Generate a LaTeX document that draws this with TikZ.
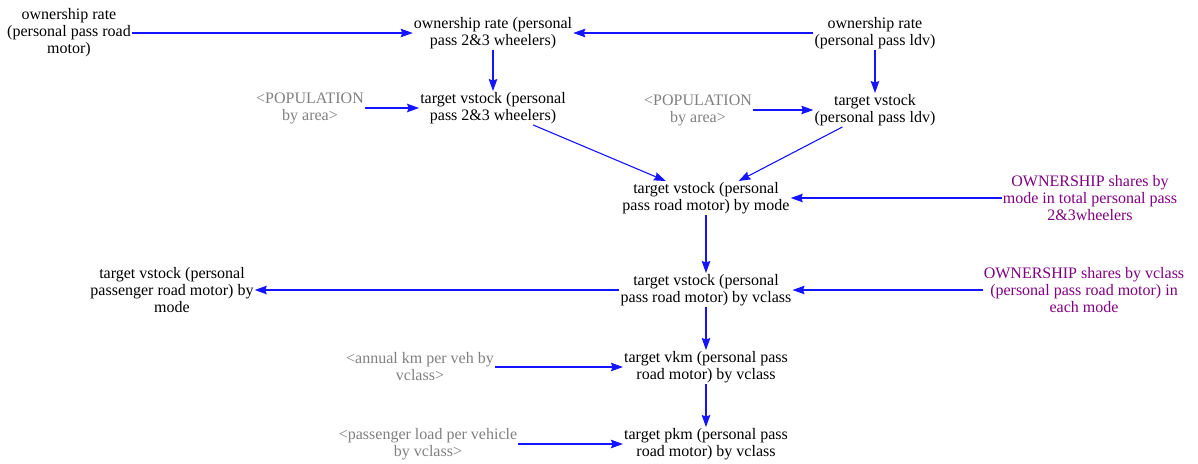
\documentclass[tikz,border=0pt]{standalone}
\usepackage{fontspec}
\setmainfont{Liberation Serif}
\usetikzlibrary{arrows.meta}
\definecolor{linkblue}{RGB}{20,20,255}
\definecolor{shadowgray}{RGB}{128,128,128}
\definecolor{paramplum}{RGB}{128,0,128}
\begin{document}
\begin{tikzpicture}[x=1pt,y=-1pt,
  var/.style={align=center, inner sep=1pt, font=\fontsize{16}{17}\selectfont},
  shadowvar/.style={var, text=shadowgray},
  param/.style={var, text=paramplum},
  link/.style={draw=linkblue, line width=1.1pt, -{Stealth[length=12pt,width=8.5pt,inset=1.5pt]}},
]
\useasboundingbox (0,0) rectangle (1198,463);

% variables
\node[var] (A) at (69,33) {ownership rate\\(personal pass road\\motor)};
\node[var] (B) at (493,33) {ownership rate (personal\\pass 2\&3 wheelers)};
\node[var] (C) at (875,33) {ownership rate\\(personal pass ldv)};
\node[shadowvar] (P1) at (310,108) {<POPULATION\\by area>};
\node[var] (D) at (493,108) {target vstock (personal\\pass 2\&3 wheelers)};
\node[shadowvar] (P2) at (698,110) {<POPULATION\\by area>};
\node[var] (E) at (875,110) {target vstock\\(personal pass ldv)};
\node[var] (F) at (706,198) {target vstock (personal\\pass road motor) by mode};
\node[param] (O1) at (1090,198) {OWNERSHIP shares by\\mode in total personal pass\\2\&3wheelers};
\node[var] (G) at (706,290) {target vstock (personal\\pass road motor) by vclass};
\node[var] (H) at (172,290) {target vstock (personal\\passenger road motor) by\\mode};
\node[param] (O2) at (1084,290) {OWNERSHIP shares by vclass\\(personal pass road motor) in\\each mode};
\node[shadowvar] (K1) at (420,367) {<annual km per veh by\\vclass>};
\node[var] (I) at (706,367) {target vkm (personal pass\\road motor) by vclass};
\node[shadowvar] (K2) at (428,444) {<passenger load per vehicle\\by vclass>};
\node[var] (J) at (706,444) {target pkm (personal pass\\road motor) by vclass};

% causal links
\draw[link] (A) -- (B);
\draw[link] (C) -- (B);
\draw[link] (B) -- (D);
\draw[link] (P1) -- (D);
\draw[link] (C) -- (E);
\draw[link] (P2) -- (E);
\draw[link] (D) -- (F);
\draw[link] (E) -- (F);
\draw[link] (O1) -- (F);
\draw[link] (F) -- (G);
\draw[link] (G) -- (H);
\draw[link] (O2) -- (G);
\draw[link] (G) -- (I);
\draw[link] (K1) -- (I);
\draw[link] (I) -- (J);
\draw[link] (K2) -- (J);
\end{tikzpicture}
\end{document}
